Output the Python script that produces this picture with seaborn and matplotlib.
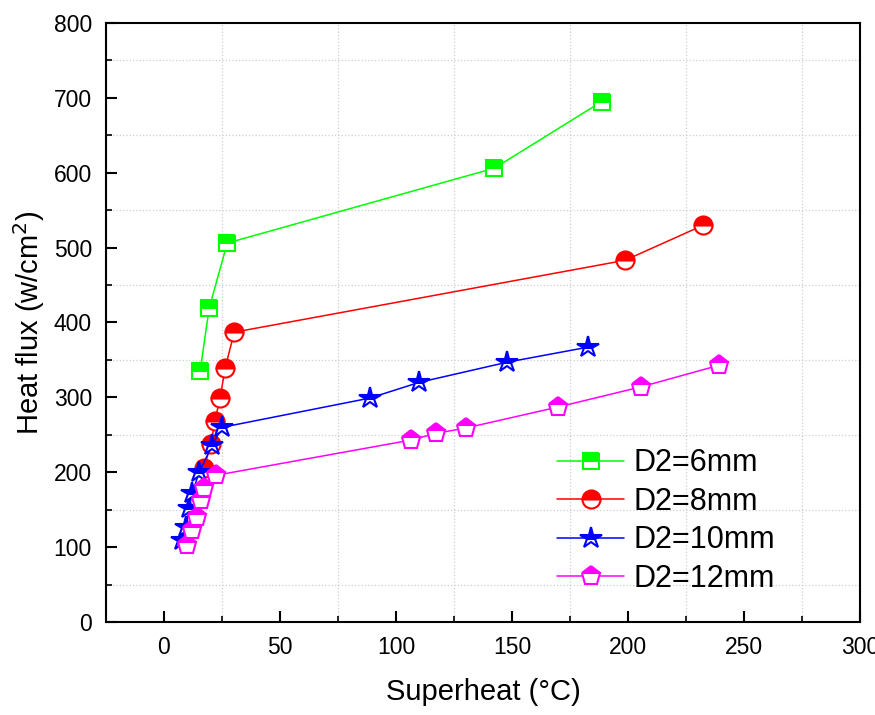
import numpy as np
import pandas as pd
import seaborn as sns
import matplotlib.pyplot as plt
from matplotlib.ticker import MultipleLocator

# superheat (C) / heat flux (W/cm2)
d6_x = [15.6, 19.5, 27.3, 142.4, 188.7]
d6_y = [335, 419, 506, 606, 695]

d8_x = [17.3, 20.3, 22.0, 24.2, 26.4, 30.3, 198.7, 232.5]
d8_y = [206, 238, 269, 299, 339, 387, 483, 530]

d10_x = [8.0, 9.5, 10.8, 12.2, 15.2, 20.8, 25.1, 88.7, 110.0, 148.0, 182.7]
d10_y = [110, 127, 152, 172, 200, 236, 260, 299, 320, 347, 367]

d12_x = [10.0, 12.2, 14.3, 16.0, 17.3, 22.5, 106.5, 117.3, 130.0, 169.7, 205.6, 239.4]
d12_y = [103, 123, 140, 163, 179, 196, 243, 252, 259, 287, 314, 343]

labels = ['D2=6mm', 'D2=8mm', 'D2=10mm', 'D2=12mm']
colors = ['#00ff00', '#ff0000', '#0000ff', '#ff00ff']
markers = ['s', 'o', '*', 'p']
msizes = [12, 13, 16, 14]

sns.set_style('ticks')
plt.rcParams['font.family'] = ['Liberation Sans', 'DejaVu Sans']
plt.rcParams['text.color'] = 'black'
plt.rcParams['axes.labelcolor'] = 'black'
plt.rcParams['xtick.color'] = 'black'
plt.rcParams['ytick.color'] = 'black'

fig = plt.figure(figsize=(8.75, 7.15), dpi=100)
ax = fig.add_axes([0.121, 0.130, 0.862, 0.838])

series = [(d6_x, d6_y), (d8_x, d8_y), (d10_x, d10_y), (d12_x, d12_y)]
for (xs, ys), lab, c, m, ms in zip(series, labels, colors, markers, msizes):
    df = pd.DataFrame({'x': xs, 'y': ys})
    sns.lineplot(data=df, x='x', y='y', ax=ax, color=c, label=lab,
                 marker=m, markersize=ms, fillstyle='top',
                 markerfacecoloralt='white', markeredgecolor=c,
                 markeredgewidth=1.5, linewidth=1.1, sort=False)

ax.set_xlim(-25, 300)
ax.set_ylim(0, 800)
ax.xaxis.set_major_locator(MultipleLocator(50))
ax.xaxis.set_minor_locator(MultipleLocator(25))
ax.yaxis.set_major_locator(MultipleLocator(100))
ax.yaxis.set_minor_locator(MultipleLocator(50))
ax.grid(which='minor', linestyle=':', color='#cfcfcf', linewidth=0.9)
ax.grid(which='major', visible=False)

ax.tick_params(which='major', direction='in', length=8, width=1.5,
               labelsize=16.5, top=False, right=False, pad=10)
ax.tick_params(which='minor', direction='in', length=4, width=1.2,
               top=False, right=False)
for sp in ax.spines.values():
    sp.set_linewidth(1.5)
    sp.set_color('black')

ax.set_xlabel('Superheat (°C)', fontsize=21, labelpad=14)
ax.set_ylabel('Heat flux (w/cm$^2$)', fontsize=21, labelpad=5)

ax.legend(loc='upper left', bbox_to_anchor=(0.598, 0.29), frameon=False,
          fontsize=22, handlelength=2.2, handletextpad=0.3,
          labelspacing=0.28, borderpad=0, borderaxespad=0)

fig.savefig('out.png', dpi=100)
